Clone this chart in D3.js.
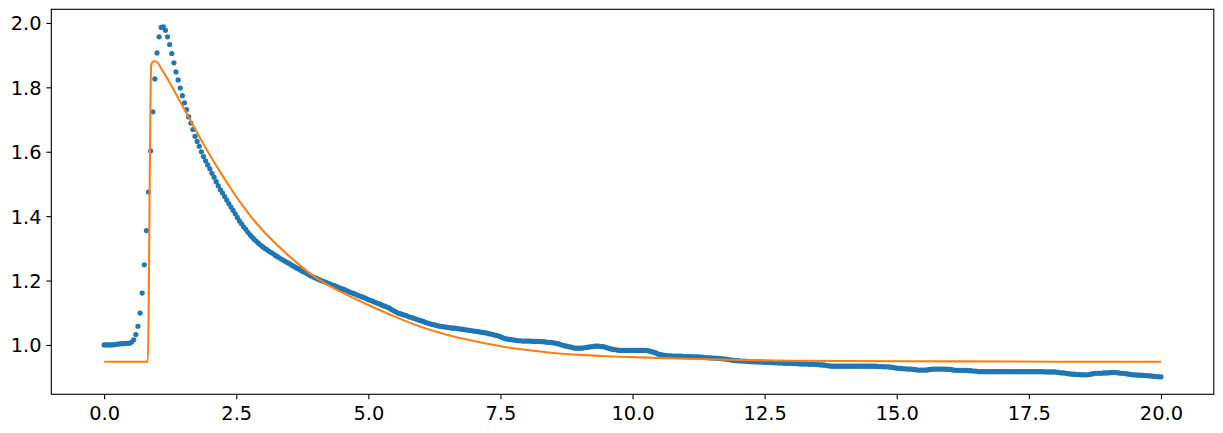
<!DOCTYPE html>
<html>
<head>
<meta charset="utf-8">
<script src="https://cdn.jsdelivr.net/npm/d3@7"></script>
<style>
  html, body { margin: 0; padding: 0; background: #ffffff; }
  svg { display: block; }
  text { font-family: "DejaVu Sans", sans-serif; }
</style>
</head>
<body>
<svg id="chart" width="1223" height="433"></svg>
<script>
// ---- data ----
// measured series: one sample every 0.04 time units, t = 0 .. 20
const measuredStep = 0.04;
const measuredValues = [
  // 0.00 - 0.96
  1.000,1.000,1.000,1.000,1.000,1.001,1.002,1.003,1.004,1.004,1.005,1.005,1.005,1.009,1.016,1.032,1.058,1.099,1.161,1.249,1.355,1.475,1.603,1.724,1.826,
  // 1.00 - 1.96
  1.907,1.957,1.986,1.988,1.977,1.957,1.933,1.905,1.876,1.848,1.823,1.798,1.774,1.752,1.731,1.708,1.689,1.669,1.648,1.632,1.617,1.600,1.585,1.572,1.559,
  // 2.00 - 2.96
  1.547,1.533,1.521,1.507,1.494,1.482,1.472,1.461,1.450,1.439,1.428,1.418,1.407,1.396,1.385,1.376,1.367,1.359,1.350,1.342,1.335,1.328,1.322,1.316,1.310,
  // 3.00 - 3.96
  1.305,1.300,1.296,1.291,1.287,1.283,1.278,1.274,1.270,1.266,1.262,1.258,1.255,1.251,1.247,1.243,1.239,1.236,1.232,1.228,1.225,1.221,1.217,1.214,1.211,
  // 4.00 - 4.96
  1.208,1.205,1.202,1.199,1.197,1.194,1.191,1.189,1.186,1.184,1.181,1.178,1.176,1.173,1.171,1.168,1.165,1.162,1.160,1.157,1.154,1.152,1.149,1.147,1.144,
  // 5.00 - 5.96
  1.141,1.138,1.136,1.133,1.130,1.128,1.125,1.122,1.120,1.117,1.114,1.110,1.106,1.103,1.099,1.097,1.095,1.093,1.091,1.088,1.086,1.084,1.082,1.079,1.077,
  // 6.00 - 6.96
  1.075,1.073,1.070,1.068,1.066,1.064,1.063,1.061,1.059,1.058,1.057,1.056,1.055,1.054,1.053,1.052,1.052,1.051,1.050,1.049,1.048,1.047,1.046,1.045,1.044,
  // 7.00 - 7.96
  1.043,1.042,1.041,1.040,1.039,1.038,1.037,1.035,1.034,1.032,1.030,1.029,1.027,1.024,1.021,1.019,1.018,1.017,1.016,1.015,1.014,1.013,1.013,1.012,1.012,
  // 8.00 - 8.96
  1.012,1.012,1.012,1.011,1.011,1.011,1.011,1.010,1.010,1.009,1.008,1.008,1.007,1.006,1.005,1.003,1.001,0.999,0.997,0.996,0.994,0.993,0.991,0.990,0.990,
  // 9.00 - 9.96
  0.990,0.990,0.991,0.992,0.993,0.994,0.995,0.996,0.996,0.996,0.995,0.995,0.993,0.991,0.989,0.987,0.986,0.985,0.984,0.983,0.983,0.983,0.983,0.983,0.983,
  // 10.00 - 10.96
  0.983,0.983,0.983,0.983,0.983,0.983,0.983,0.982,0.981,0.979,0.977,0.975,0.972,0.970,0.969,0.968,0.967,0.966,0.966,0.965,0.965,0.965,0.965,0.965,0.964,
  // 11.00 - 11.96
  0.964,0.964,0.964,0.964,0.963,0.963,0.963,0.962,0.962,0.961,0.961,0.960,0.960,0.959,0.959,0.958,0.958,0.957,0.957,0.956,0.955,0.954,0.953,0.952,0.951,
  // 12.00 - 12.96
  0.951,0.950,0.950,0.950,0.949,0.949,0.948,0.948,0.948,0.947,0.947,0.947,0.946,0.946,0.946,0.946,0.945,0.945,0.945,0.944,0.944,0.944,0.943,0.943,0.943,
  // 13.00 - 13.96
  0.943,0.942,0.942,0.942,0.941,0.941,0.941,0.941,0.940,0.940,0.940,0.940,0.939,0.939,0.938,0.938,0.937,0.936,0.935,0.934,0.934,0.934,0.934,0.934,0.934,
  // 14.00 - 14.96
  0.934,0.934,0.934,0.934,0.934,0.934,0.934,0.934,0.934,0.934,0.934,0.934,0.934,0.934,0.934,0.934,0.933,0.933,0.933,0.932,0.932,0.932,0.931,0.930,0.929,
  // 15.00 - 15.96
  0.928,0.927,0.927,0.926,0.926,0.925,0.925,0.925,0.924,0.923,0.922,0.922,0.922,0.922,0.922,0.923,0.924,0.925,0.925,0.925,0.925,0.925,0.925,0.925,0.924,
  // 16.00 - 16.96
  0.924,0.923,0.922,0.921,0.921,0.921,0.921,0.921,0.921,0.920,0.920,0.919,0.919,0.918,0.917,0.917,0.917,0.917,0.917,0.917,0.917,0.917,0.917,0.917,0.917,
  // 17.00 - 17.96
  0.917,0.917,0.917,0.917,0.917,0.917,0.917,0.917,0.917,0.917,0.917,0.917,0.917,0.917,0.917,0.917,0.917,0.917,0.917,0.917,0.916,0.916,0.916,0.916,0.916,
  // 18.00 - 18.96
  0.916,0.915,0.914,0.913,0.913,0.912,0.911,0.910,0.909,0.909,0.908,0.908,0.908,0.907,0.907,0.907,0.908,0.909,0.911,0.912,0.912,0.912,0.912,0.913,0.913,
  // 19.00 - 20.00
  0.913,0.914,0.915,0.915,0.914,0.913,0.912,0.912,0.911,0.910,0.909,0.908,0.907,0.907,0.906,0.906,0.906,0.905,0.905,0.904,0.904,0.903,0.902,0.902,0.901,0.901
];
const measuredTimes = measuredValues.map((v, i) => +(i * measuredStep).toFixed(2));

// fitted model curve (orange line)
const modelTimes = [0, 0.825, 0.89, 0.92, 0.95, 1.00, 1.10, 1.20, 1.30, 1.40, 1.50, 1.60, 1.70, 1.80, 1.90, 2.00,
  2.20, 2.40, 2.60, 2.80, 3.00, 3.25, 3.50, 3.75, 4.00, 4.25, 4.50, 5.00, 5.50, 6.00, 6.50, 7.00, 7.50,
  8.00, 8.50, 9.00, 9.50, 10.0, 11.0, 12.0, 13.0, 14.0, 16.0, 18.0, 20.0];
const modelValues = [0.948, 0.948, 1.868, 1.879, 1.881, 1.878, 1.853, 1.826, 1.797, 1.767, 1.737, 1.707, 1.677, 1.647, 1.618, 1.590,
  1.536, 1.485, 1.437, 1.394, 1.356, 1.314, 1.276, 1.241, 1.210, 1.185, 1.163, 1.124, 1.088, 1.056, 1.031, 1.012, 0.996,
  0.984, 0.975, 0.969, 0.965, 0.962, 0.957, 0.953, 0.951, 0.950, 0.949, 0.948, 0.948];

const xTicks = [0, 2.5, 5, 7.5, 10, 12.5, 15, 17.5, 20];
const yTicks = [1.0, 1.2, 1.4, 1.6, 1.8, 2.0];

// ---- layout ----
const W = 1223, H = 433;
const plot = { left: 51.3, right: 1213.8, top: 9.3, bottom: 394.3 };
const FONT = 19.4;
const TICK = 4.9;

const svg = d3.select("#chart");

// autoscale with 5% margins (like matplotlib)
const allX = measuredTimes.concat(modelTimes);
const allY = measuredValues.concat(modelValues);
const [x0, x1] = d3.extent(allX);
const [y0, y1] = d3.extent(allY);
const mx = (x1 - x0) * 0.05, my = (y1 - y0) * 0.05;

const x = d3.scaleLinear().domain([x0 - mx, x1 + mx]).range([plot.left, plot.right]);
const y = d3.scaleLinear().domain([y0 - my, y1 + my]).range([plot.bottom, plot.top]);

// measured points
svg.append("g")
  .selectAll("circle")
  .data(measuredTimes.map((t, i) => [t, measuredValues[i]]))
  .join("circle")
  .attr("cx", d => x(d[0]))
  .attr("cy", d => y(d[1]))
  .attr("r", 2.6)
  .attr("fill", "#1f77b4");

// model line
svg.append("path")
  .datum(modelTimes.map((t, i) => [t, modelValues[i]]))
  .attr("fill", "none")
  .attr("stroke", "#ff7f0e")
  .attr("stroke-width", 2.08)
  .attr("stroke-linejoin", "round")
  .attr("stroke-linecap", "butt")
  .attr("d", d3.line().x(d => x(d[0])).y(d => y(d[1])).curve(d3.curveMonotoneX));

// frame
svg.append("rect")
  .attr("x", plot.left).attr("y", plot.top)
  .attr("width", plot.right - plot.left).attr("height", plot.bottom - plot.top)
  .attr("fill", "none").attr("stroke", "#000").attr("stroke-width", 1.1);

// axes
const fmt = d3.format(".1f");
const xAxis = svg.append("g")
  .attr("transform", `translate(0,${plot.bottom})`)
  .call(d3.axisBottom(x).tickValues(xTicks).tickFormat(fmt).tickSize(TICK).tickPadding(7.5).tickSizeOuter(0));
const yAxis = svg.append("g")
  .attr("transform", `translate(${plot.left},0)`)
  .call(d3.axisLeft(y).tickValues(yTicks).tickFormat(fmt).tickSize(TICK).tickPadding(4.9).tickSizeOuter(0));

[xAxis, yAxis].forEach(g => {
  g.select(".domain").remove();
  g.selectAll(".tick line").attr("stroke", "#000").attr("stroke-width", 1.1);
  g.selectAll(".tick text")
    .attr("fill", "#000")
    .style("font-family", '"DejaVu Sans", sans-serif')
    .style("font-size", FONT + "px");
});
yAxis.selectAll(".tick text").attr("dy", "0.36em");
</script>
</body>
</html>
